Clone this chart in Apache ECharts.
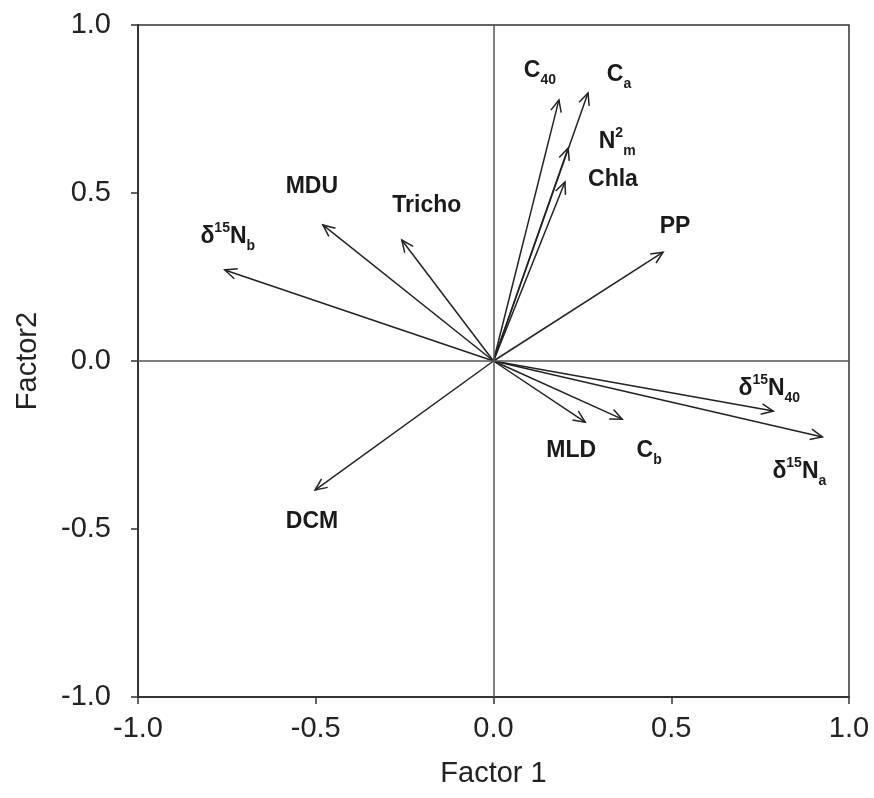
<!DOCTYPE html>
<html>
<head>
<meta charset="utf-8">
<script src="https://cdn.jsdelivr.net/npm/echarts@6/dist/echarts.min.js"></script>
<style>html,body{margin:0;padding:0;background:#fff;}#c{width:874px;height:798px;}</style>
</head>
<body>
<div id="c"></div>
<script>
// Variables (loadings)
var variables = ['C40', 'Ca', 'N2m', 'Chla', 'PP', 'Tricho', 'MDU', 'd15Nb', 'DCM', 'MLD', 'Cb', 'd15N40', 'd15Na'];
var factor1 = [0.184, 0.266, 0.210, 0.201, 0.477, -0.258, -0.480, -0.756, -0.502, 0.258, 0.362, 0.787, 0.925];
var factor2 = [0.777, 0.798, 0.634, 0.533, 0.324, 0.360, 0.405, 0.271, -0.384, -0.182, -0.173, -0.149, -0.226];
// Rich-text labels
var labelText = [
  '{n|C}{sub|40}',
  '{n|C}{sub|a}',
  '{n|N}{sup|2}{sub|m}',
  '{n|Chla}',
  '{n|PP}',
  '{n|Tricho}',
  '{n|MDU}',
  '{n|δ}{sup|15}{n|N}{sub|b}',
  '{n|DCM}',
  '{n|MLD}',
  '{n|C}{sub|b}',
  '{n|δ}{sup|15}{n|N}{sub|40}',
  '{n|δ}{sup|15}{n|N}{sub|a}'
];
// Tick labels
var tickValues = [-1.0, -0.5, 0.0, 0.5, 1.0];

// Styling: label offsets (px) from arrow tips
var labelOffsets = [
  [-19, -29], [31, -18], [49, -6], [48, -2], [12, -25], [25, -34], [-11, -38],
  [3, -33], [-3, 32], [-14, 29], [27, 32], [-4, -22], [-23, 35]
];

var FONT = "'Liberation Sans', Arial, Helvetica, sans-serif";
var data = variables.map(function (v, i) { return [factor1[i], factor2[i], i]; });

var chart = echarts.init(document.getElementById('c'));
var rich = {
  n: { fontSize: 23, fontWeight: 'bold', fontFamily: FONT, fill: '#1a1a1a', lineHeight: 32, verticalAlign: 'middle' },
  sup: { fontSize: 14, fontWeight: 'bold', fontFamily: FONT, fill: '#1a1a1a', verticalAlign: 'top' },
  sub: { fontSize: 14, fontWeight: 'bold', fontFamily: FONT, fill: '#1a1a1a', verticalAlign: 'bottom' }
};

chart.setOption({
  animation: false,
  backgroundColor: '#fff',
  grid: { left: 138, right: 25, top: 25, bottom: 101, show: true, borderColor: '#333', borderWidth: 1.5, backgroundColor: 'transparent' },
  xAxis: {
    type: 'value', min: -1, max: 1, interval: 0.5,
    name: 'Factor 1', nameLocation: 'middle', nameGap: 62,
    nameTextStyle: { fontSize: 29, fontFamily: FONT, color: '#222' },
    axisLine: { show: true, onZero: false, lineStyle: { color: '#333', width: 2 } },
    axisTick: { show: true, length: 7, lineStyle: { color: '#333', width: 1.5 } },
    axisLabel: { margin: 17, fontSize: 29, fontFamily: FONT, color: '#222',
      formatter: function (v) { return v.toFixed(1); } },
    splitLine: { show: false }
  },
  yAxis: {
    type: 'value', min: -1, max: 1, interval: 0.5,
    name: 'Factor2', nameLocation: 'middle', nameGap: 96, nameRotate: 90,
    nameTextStyle: { fontSize: 29, fontFamily: FONT, color: '#222' },
    axisLine: { show: true, onZero: false, lineStyle: { color: '#333', width: 2 } },
    axisTick: { show: true, length: 7, lineStyle: { color: '#333', width: 1.5 } },
    axisLabel: { margin: 27, fontSize: 29, fontFamily: FONT, color: '#222',
      formatter: function (v) { return v.toFixed(1); } },
    splitLine: { show: false }
  },
  series: [{
    type: 'custom',
    coordinateSystem: 'cartesian2d',
    data: data,
    encode: { x: 0, y: 1 },
    renderItem: function (params, api) {
      var i = api.value(2);
      var p0 = api.coord([0, 0]);
      var p1 = api.coord([api.value(0), api.value(1)]);
      var a = Math.atan2(p1[1] - p0[1], p1[0] - p0[0]);
      var L = 13, h = 0.42;
      var h1 = [p1[0] - L * Math.cos(a - h), p1[1] - L * Math.sin(a - h)];
      var h2 = [p1[0] - L * Math.cos(a + h), p1[1] - L * Math.sin(a + h)];
      var off = labelOffsets[i];
      return {
        type: 'group',
        children: [
          { type: 'line', shape: { x1: p0[0], y1: p0[1], x2: p1[0], y2: p1[1] },
            style: { stroke: '#222', lineWidth: 1.5 } },
          { type: 'polyline', shape: { points: [h1, p1, h2] },
            style: { stroke: '#222', lineWidth: 1.5, fill: null } },
          { type: 'text', style: { x: p1[0] + off[0], y: p1[1] + off[1], text: labelText[i], rich: rich,
              align: 'center', verticalAlign: 'middle', fill: '#1a1a1a' } }
        ]
      };
    },
    markLine: {
      silent: true, symbol: 'none', animation: false,
      label: { show: false },
      lineStyle: { color: '#555', width: 1.5, type: 'solid' },
      data: [{ xAxis: 0 }, { yAxis: 0 }]
    }
  }]
});
</script>
</body>
</html>
